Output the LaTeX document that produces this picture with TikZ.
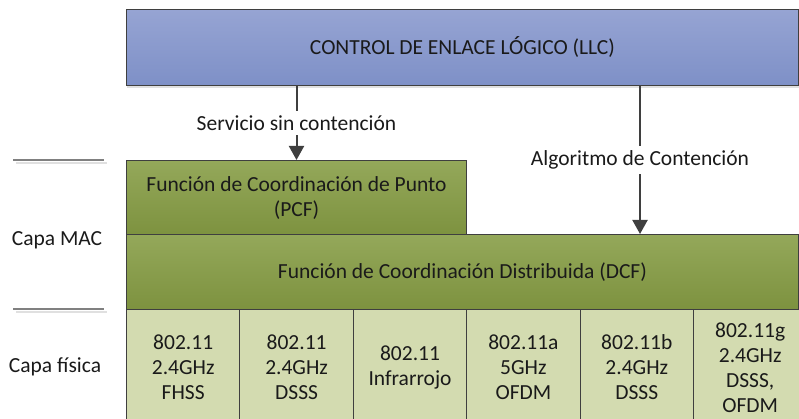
\documentclass[tikz,border=0pt]{standalone}
\usepackage{fontspec}
\setmainfont{Carlito}
\usetikzlibrary{arrows.meta,shadows}
\definecolor{bdr}{HTML}{3F3F3F}
\definecolor{llctop}{HTML}{96A4D3}
\definecolor{llcbot}{HTML}{7E90C7}
\definecolor{grtop}{HTML}{94A85A}
\definecolor{grbot}{HTML}{7D923F}
\definecolor{cellf}{HTML}{D3DBB0}
\definecolor{txt}{HTML}{1A1A1A}
\tikzset{
  base/.style={draw=bdr, line width=1pt, inner sep=0pt, anchor=north west, text=txt,
    font=\fontsize{21.5}{25}\selectfont, align=center},
  llcbox/.style={base, top color=llctop, bottom color=llcbot,
    drop shadow={shadow xshift=0pt, shadow yshift=-3pt, fill=black!12, opacity=1}},
  greenbox/.style={base, top color=grtop, bottom color=grbot},
  cellbox/.style={base, fill=cellf, minimum width=113.4pt, minimum height=116pt},
  arr/.style={draw=bdr, line width=2pt, -{Triangle[length=14pt,width=15pt]}},
  lbl/.style={fill=white, inner xsep=2pt, inner ysep=5pt, text=txt,
    font=\fontsize{21.5}{25}\selectfont},
  side/.style={text=txt, font=\fontsize{21.5}{25}\selectfont},
  sep/.style={draw=black!50, line width=1.5pt},
  sepsh/.style={draw=black!12, line width=1.5pt}
}
\begin{document}
\begin{tikzpicture}[x=1pt,y=-1pt]
\useasboundingbox (0,0) rectangle (799,419);
\clip (0,0) rectangle (799,419);
% side separators
\draw[sepsh] (16,163) -- (107,163);
\draw[sep] (13,160) -- (104,160);
\draw[sepsh] (16,312) -- (107,312);
\draw[sep] (13,309) -- (104,309);
\node[side] (mac) at (57,240) {Capa MAC};
\node[side] (fis) at (55,367) {Capa física};
% boxes
\node[llcbox, minimum width=672pt, minimum height=76pt] (llc) at (126,9) {CONTROL DE ENLACE LÓGICO (LLC)};
\node[greenbox, minimum width=340pt, minimum height=75pt] (pcf) at (126,160) {Función de Coordinación de Punto\\(PCF)};
\node[greenbox, minimum width=672pt, minimum height=75pt] (dcf) at (126,234) {Función de Coordinación Distribuida (DCF)};
% physical cells
\node[cellbox] (c1) at (126,309) {802.11\\2.4GHz\\FHSS};
\node[cellbox] (c2) at (239.4,309) {802.11\\2.4GHz\\DSSS};
\node[cellbox] (c3) at (352.8,309) {802.11\\Infrarrojo};
\node[cellbox] (c4) at (466.2,309) {802.11a\\5GHz\\OFDM};
\node[cellbox] (c5) at (579.6,309) {802.11b\\2.4GHz\\DSSS};
\node[cellbox] (c6) at (693,309) {802.11g\\2.4GHz\\DSSS,\\OFDM};
% arrows
\coordinate (ax) at (640,0);
\draw[arr] (pcf.north |- llc.south) -- node[lbl] (l1) {Servicio sin contención} (pcf.north);
\draw[arr] (ax |- llc.south) -- node[lbl] (l2) {Algoritmo de Contención} (ax |- dcf.north);
\end{tikzpicture}
\end{document}
